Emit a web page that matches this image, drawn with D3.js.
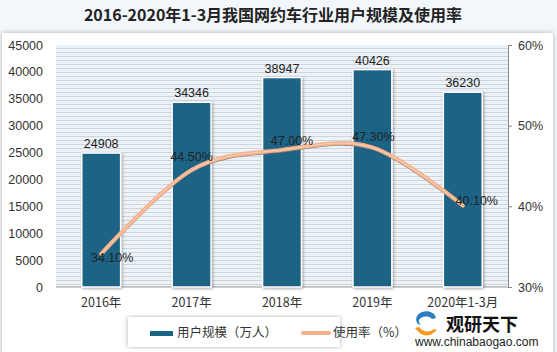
<!DOCTYPE html>
<html>
<head>
<meta charset="utf-8">
<script src="https://cdn.jsdelivr.net/npm/d3@7/dist/d3.min.js"></script>
<style>
  body { margin: 0; background: #f2f7fb; }
  svg { display: block; }
</style>
</head>
<body>
<script>
const categories = ["2016年", "2017年", "2018年", "2019年", "2020年1-3月"];
const users = [24908, 34346, 38947, 40426, 36230];
const rate = [0.341, 0.445, 0.470, 0.473, 0.401];
const leftTicks = [0, 5000, 10000, 15000, 20000, 25000, 30000, 35000, 40000, 45000];
const rightTicks = [0.3, 0.4, 0.5, 0.6];

const W = 557, H = 352;
const plot = { left: 56, right: 508, top: 45, bottom: 287 };
const barColor = "#1b6386";
const lineColor = "#f6b08a";
const font = "'Liberation Sans', Arial, sans-serif";
const cjk = "'Noto Sans CJK SC', sans-serif";

const svg = d3.select("body").append("svg")
    .attr("width", W)
    .attr("height", H);

const defs = svg.append("defs");
const shadow = defs.append("filter").attr("id", "shadow")
    .attr("x", "-20%").attr("y", "-20%").attr("width", "140%").attr("height", "140%");
shadow.append("feDropShadow")
    .attr("dx", 1).attr("dy", 1).attr("stdDeviation", 1.5)
    .attr("flood-color", "#000").attr("flood-opacity", 0.35);

const cardShadow = defs.append("filter").attr("id", "cardShadow")
    .attr("x", "-5%").attr("y", "-5%").attr("width", "110%").attr("height", "110%");
cardShadow.append("feDropShadow")
    .attr("dx", 0).attr("dy", 0).attr("stdDeviation", 2.5)
    .attr("flood-color", "#000").attr("flood-opacity", 0.3);

// striped plot background
const pat = defs.append("pattern").attr("id", "stripes")
    .attr("patternUnits", "userSpaceOnUse")
    .attr("width", 8).attr("height", 4)
    .attr("y", plot.top);
pat.append("rect").attr("width", 8).attr("height", 4).attr("fill", "#edf2f6");
pat.append("rect").attr("y", 3).attr("width", 8).attr("height", 1).attr("fill", "#cdd5dd");

// title
svg.append("text")
    .attr("x", 273).attr("y", 21)
    .attr("text-anchor", "middle")
    .attr("font-family", cjk)
    .attr("font-weight", "bold")
    .attr("font-size", 16)
    .attr("fill", "#222")
    .text("2016-2020年1-3月我国网约车行业用户规模及使用率");

// white card
svg.append("rect")
    .attr("x", 2).attr("y", 33)
    .attr("width", 551).attr("height", 330)
    .attr("fill", "#fff")
    .attr("filter", "url(#cardShadow)");

const x = d3.scaleBand()
    .domain(categories)
    .range([plot.left, plot.right])
    .paddingInner(0.57)
    .paddingOuter(0.285);

const yL = d3.scaleLinear().domain([0, 45000]).range([plot.bottom, plot.top]);
const yR = d3.scaleLinear().domain([0.3, 0.6]).range([plot.bottom, plot.top]);

svg.append("rect")
    .attr("x", plot.left).attr("y", plot.top)
    .attr("width", plot.right - plot.left)
    .attr("height", plot.bottom - plot.top)
    .attr("fill", "url(#stripes)");

// left axis
const axL = svg.append("g")
    .attr("transform", `translate(${plot.left},0)`)
    .call(d3.axisLeft(yL).tickValues(leftTicks).tickFormat(d3.format("d")).tickSize(0).tickPadding(13));
axL.select(".domain").remove();
axL.selectAll("text")
    .attr("font-family", font).attr("font-size", 12.5).attr("fill", "#333");

// right axis
const axR = svg.append("g")
    .attr("transform", `translate(${plot.right},0)`)
    .call(d3.axisRight(yR).tickValues(rightTicks).tickFormat(d3.format(".0%")).tickSize(4).tickSizeOuter(0).tickPadding(6));
axR.select(".domain").attr("stroke", "#888");
axR.selectAll(".tick line").attr("stroke", "#888");
axR.selectAll("text")
    .attr("font-family", font).attr("font-size", 12.5).attr("fill", "#333");

// bottom axis
const axB = svg.append("g")
    .attr("transform", `translate(0,${plot.bottom})`)
    .call(d3.axisBottom(x).tickSize(0).tickPadding(11));
axB.select(".domain").attr("stroke", "#999").attr("d", `M${plot.left},0H${plot.right}`);
axB.selectAll("text")
    .attr("font-family", cjk).attr("font-size", 12.5).attr("fill", "#333");

// bars
svg.append("g")
    .selectAll("rect")
    .data(users)
    .join("rect")
    .attr("x", (d, i) => x(categories[i]))
    .attr("y", d => yL(d))
    .attr("width", x.bandwidth())
    .attr("height", d => yL(0) - yL(d))
    .attr("fill", barColor)
    .attr("stroke", "#fff")
    .attr("stroke-width", 1.5)
    .attr("filter", "url(#shadow)");

svg.append("g")
    .selectAll("text")
    .data(users)
    .join("text")
    .attr("x", (d, i) => x(categories[i]) + x.bandwidth() / 2)
    .attr("y", d => yL(d) - 5)
    .attr("text-anchor", "middle")
    .attr("font-family", font).attr("font-size", 12.5).attr("fill", "#222")
    .text(d => d);

// rate line
const cx = i => x(categories[i]) + x.bandwidth() / 2;
const line = d3.line()
    .x((d, i) => cx(i))
    .y(d => yR(d))
    .curve(d3.curveCardinal.tension(0));

svg.append("path")
    .datum(rate)
    .attr("d", line)
    .attr("fill", "none")
    .attr("stroke", "#7d7d7d")
    .attr("stroke-width", 1.2)
    .attr("transform", "translate(0,2)");
svg.append("path")
    .datum(rate)
    .attr("d", line)
    .attr("fill", "none")
    .attr("stroke", lineColor)
    .attr("stroke-width", 4)
    .attr("stroke-linecap", "round");
svg.append("path")
    .datum(rate)
    .attr("d", line)
    .attr("fill", "none")
    .attr("stroke", "#fbd3bb")
    .attr("stroke-width", 1);

const labelOff = [[11, 4], [0, -13], [10, -9], [1, -11], [14, -5]];
svg.append("g")
    .selectAll("text")
    .data(rate)
    .join("text")
    .attr("x", (d, i) => cx(i) + labelOff[i][0])
    .attr("y", (d, i) => yR(d) + labelOff[i][1])
    .attr("dy", "0.35em")
    .attr("text-anchor", "middle")
    .attr("font-family", font).attr("font-size", 12.5).attr("fill", "#222")
    .text(d => d3.format(".2%")(d));

// legend
const lg = svg.append("g");
lg.append("rect")
    .attr("x", 128).attr("y", 317)
    .attr("width", 212).attr("height", 30)
    .attr("fill", "#fff")
    .attr("filter", "url(#cardShadow)");
lg.append("rect")
    .attr("x", 150).attr("y", 331)
    .attr("width", 23).attr("height", 5)
    .attr("fill", barColor);
lg.append("text")
    .attr("x", 177).attr("y", 333).attr("dy", "0.35em")
    .attr("font-family", cjk).attr("font-size", 12.5).attr("fill", "#333")
    .text("用户规模（万人）");
lg.append("line")
    .attr("x1", 303).attr("x2", 329).attr("y1", 333).attr("y2", 333)
    .attr("stroke", lineColor).attr("stroke-width", 4).attr("stroke-linecap", "round");
lg.append("text")
    .attr("x", 333).attr("y", 333).attr("dy", "0.35em")
    .attr("font-family", cjk).attr("font-size", 12.5).attr("fill", "#333")
    .text("使用率（%）");

// watermark
const wm = svg.append("g");
wm.append("path")
    .attr("d", "M418,324 a10,8 0 1,1 18,-6 l-4,1 a7,5 0 1,0 -11,6 z")
    .attr("fill", "#2a7fc1");
wm.append("path")
    .attr("d", "M415,328 q10,14 22,2 l-3,-1 q-8,6 -15,-2 z")
    .attr("fill", "#f39a1e");
wm.append("text")
    .attr("x", 446).attr("y", 331)
    .attr("font-family", cjk).attr("font-weight", "bold").attr("font-size", 18)
    .attr("fill", "#111")
    .text("观研天下");
wm.append("text")
    .attr("x", 415).attr("y", 346)
    .attr("font-family", font).attr("font-size", 12)
    .attr("fill", "#222")
    .text("www.chinabaogao.com");
</script>
</body>
</html>
